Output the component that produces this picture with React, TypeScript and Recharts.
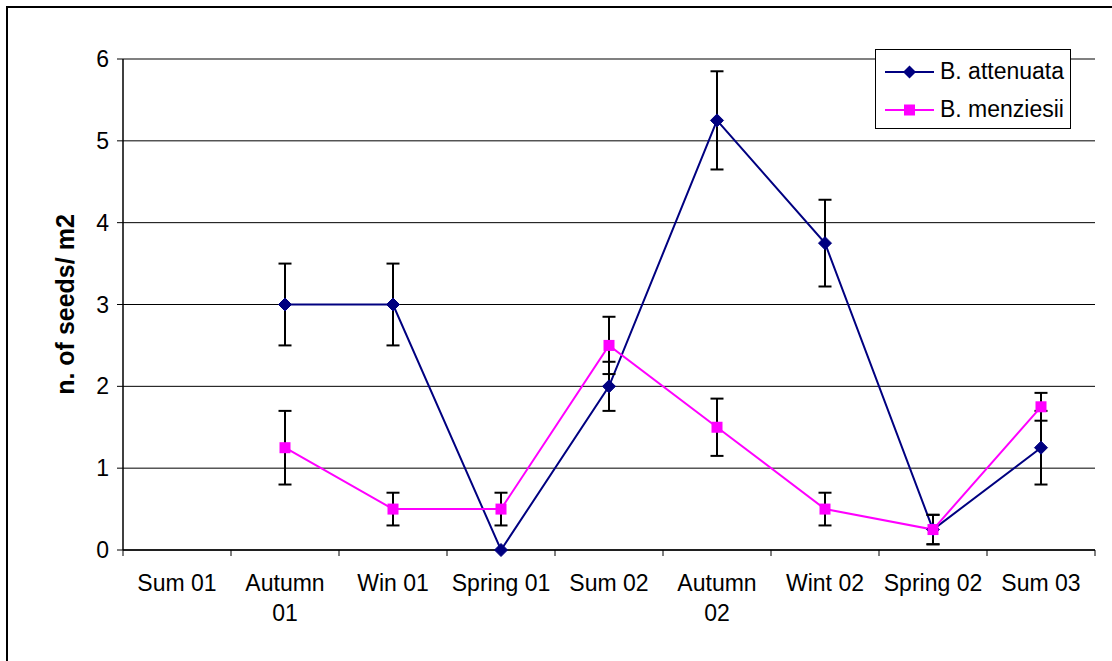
import React from 'react';
import { ComposedChart, Line, XAxis, YAxis, CartesianGrid, ErrorBar, Legend, ReferenceLine } from 'recharts';

const categories = ['Sum 01', 'Autumn\n01', 'Win 01', 'Spring 01', 'Sum 02', 'Autumn\n02', 'Wint 02', 'Spring 02', 'Sum 03'];
const attenuata = [null, 3, 3, 0, 2, 5.25, 3.75, 0.25, 1.25];
const attenuataErr = [null, 0.5, 0.5, 0, 0.3, 0.6, 0.53, 0.18, 0.45];
const menziesii = [null, 1.25, 0.5, 0.5, 2.5, 1.5, 0.5, 0.25, 1.75];
const menziesiiErr = [null, 0.45, 0.2, 0.2, 0.35, 0.35, 0.2, 0.18, 0.17];
const yTicks = [0, 1, 2, 3, 4, 5, 6];
const seriesNames = ['B. attenuata', 'B. menziesii'];

const NAVY = '#000080';
const MAGENTA = '#FF00FF';
const FONT = 'Arial, "Liberation Sans", sans-serif';

const data = categories.map((c, i) => ({
  name: c,
  att: attenuata[i],
  attErr: attenuataErr[i],
  men: menziesii[i],
  menErr: menziesiiErr[i],
}));

const Diamond = (props: any) => {
  const { cx, cy, value } = props;
  if (value == null || cx == null || cy == null) return null;
  const r = 6.5;
  return <polygon points={`${cx},${cy - r} ${cx + r},${cy} ${cx},${cy + r} ${cx - r},${cy}`} fill={NAVY} stroke={NAVY} />;
};

const Square = (props: any) => {
  const { cx, cy, value } = props;
  if (value == null || cx == null || cy == null) return null;
  const r = 5.5;
  return <rect x={cx - r} y={cy - r} width={2 * r} height={2 * r} fill={MAGENTA} />;
};

const XTick = (props: any) => {
  const { x, y, payload, index } = props;
  const half = payload && payload.offset ? payload.offset : 54;
  const lines = String(payload.value).split('\n');
  return (
    <g>
      <line x1={x - half} y1={y} x2={x - half} y2={y + 6} stroke="#000" strokeWidth={1} />
      {index === categories.length - 1 && (
        <line x1={x + half} y1={y} x2={x + half} y2={y + 6} stroke="#000" strokeWidth={1} />
      )}
      {lines.map((l, i) => (
        <text key={i} x={x} y={y + 41 + i * 30} textAnchor="middle" fontFamily={FONT} fontSize={23} fill="#000">
          {l}
        </text>
      ))}
    </g>
  );
};

const LegendBox = () => (
  <svg width={196} height={80} style={{ display: 'block' }}>
    <rect x={0.5} y={0.5} width={195} height={79} fill="#fff" stroke="#000" strokeWidth={1} />
    <line x1={10} y1={23} x2={59} y2={23} stroke={NAVY} strokeWidth={2} />
    <polygon points="34.5,16.5 41,23 34.5,29.5 28,23" fill={NAVY} />
    <text x={65} y={30} fontFamily={FONT} fontSize={23} fill="#000">{seriesNames[0]}</text>
    <line x1={10} y1={61} x2={59} y2={61} stroke={MAGENTA} strokeWidth={2} />
    <rect x={29} y={55.5} width={11} height={11} fill={MAGENTA} />
    <text x={65} y={68} fontFamily={FONT} fontSize={23} fill="#000">{seriesNames[1]}</text>
  </svg>
);

const YLabel = (props: any) => {
  const vb = props.viewBox || { y: 59, height: 491 };
  const cy = vb.y + vb.height / 2;
  return (
    <text x={0} y={0} transform={`translate(74, ${cy}) rotate(-90)`} textAnchor="middle" fontFamily={FONT} fontSize={25} fontWeight="bold" fill="#000">
      n. of seeds/ m2
    </text>
  );
};

export default function App() {
  return (
    <div style={{ position: 'absolute', left: 0, top: 0, width: 1112, height: 661, overflow: 'hidden', background: '#fff' }}>
      <div style={{ position: 'absolute', left: 6, top: 6, width: 1200, height: 800, borderLeft: '2px solid #000', borderTop: '2px solid #000' }} />
      <div style={{ position: 'absolute', left: 0, top: 0 }}>
        <ComposedChart width={1112} height={661} data={data} margin={{ top: 59, right: 17, bottom: 0, left: 0 }}>
          <CartesianGrid horizontal vertical={false} stroke="#000" strokeWidth={1} />
          <XAxis
            dataKey="name"
            type="category"
            scale="band"
            height={111}
            tickLine={false}
            tickSize={0}
            tickMargin={0}
            axisLine={{ stroke: '#000', strokeWidth: 1.5 }}
            tick={<XTick />}
            interval={0}
          />
          <YAxis
            domain={[0, 6]}
            ticks={yTicks}
            width={123}
            tickSize={6}
            tickMargin={8}
            axisLine={{ stroke: '#000', strokeWidth: 1.5 }}
            tickLine={{ stroke: '#000' }}
            tick={{ fill: '#000', fontSize: 23, fontFamily: FONT }}
            label={{ content: <YLabel /> }}
          />
          <YAxis yAxisId="right" orientation="right" width={0} domain={[0, 6]} tick={false} tickLine={false} axisLine={{ stroke: '#808080', strokeWidth: 2 }} />
          <ReferenceLine y={6} stroke="#808080" strokeWidth={2} />
          <Legend
            layout="vertical"
            align="center"
            verticalAlign="middle"
            wrapperStyle={{ left: 875, top: 49, width: 196, height: 80 }}
            content={<LegendBox />}
          />
          <Line
            dataKey="att"
            name={seriesNames[0]}
            stroke={NAVY}
            strokeWidth={2}
            dot={<Diamond />}
            activeDot={false}
            isAnimationActive={false}
            connectNulls={false}
          >
            <ErrorBar dataKey="attErr" width={6.5} stroke="#000" strokeWidth={2} direction="y" />
          </Line>
          <Line
            dataKey="men"
            name={seriesNames[1]}
            stroke={MAGENTA}
            strokeWidth={2}
            dot={<Square />}
            activeDot={false}
            isAnimationActive={false}
            connectNulls={false}
          >
            <ErrorBar dataKey="menErr" width={6.5} stroke="#000" strokeWidth={2} direction="y" />
          </Line>
        </ComposedChart>
      </div>
    </div>
  );
}
